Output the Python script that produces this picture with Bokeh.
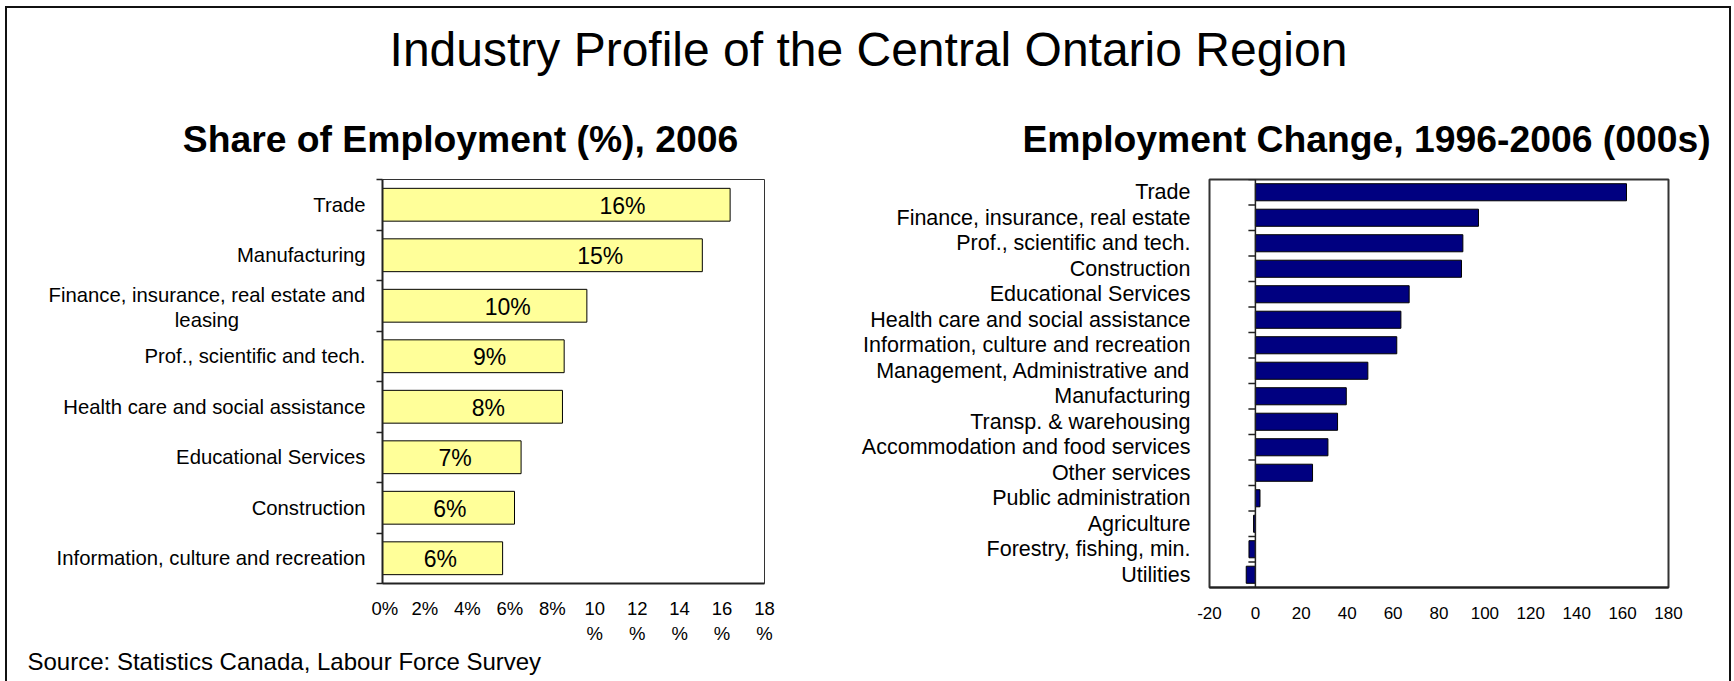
from bokeh.plotting import figure
from bokeh.layouts import column, row
from bokeh.models import Range1d, FixedTicker, Span
from bokeh.embed import file_html
from bokeh.resources import INLINE
from bokeh.core.properties import value

FONT = "Liberation Sans"

# ---------------- data ----------------
main_title = "Industry Profile of the Central Ontario Region"
share_title = "Share of Employment (%), 2006"
change_title = "Employment Change, 1996-2006 (000s)"
source_note = "Source:  Statistics Canada, Labour Force Survey"

share_categories = [
    "Trade",
    "Manufacturing",
    "Finance, insurance, real estate and leasing",
    "Prof., scientific and tech.",
    "Health care and social assistance",
    "Educational Services",
    "Construction",
    "Information, culture and recreation",
]
share_values = [16.38, 15.07, 9.63, 8.56, 8.48, 6.53, 6.22, 5.66]
share_ticks = [0, 2, 4, 6, 8, 10, 12, 14, 16, 18]

change_categories = [
    "Trade",
    "Finance, insurance, real estate",
    "Prof., scientific and tech.",
    "Construction",
    "Educational Services",
    "Health care and social assistance",
    "Information, culture and recreation",
    "Management, Administrative and",
    "Manufacturing",
    "Transp. & warehousing",
    "Accommodation and food services",
    "Other services",
    "Public administration",
    "Agriculture",
    "Forestry, fishing, min.",
    "Utilities",
]
change_values = [161.7, 97.2, 90.4, 89.8, 67.0, 63.4, 61.6, 49.0,
                 39.6, 35.8, 31.6, 24.9, 2.0, -0.8, -2.8, -4.0]
change_ticks = [-20, 0, 20, 40, 60, 80, 100, 120, 140, 160, 180]

# ---------------- layout sizes ----------------
TOTAL_W = 1722
HEAD_H = 154
MID_H = 485
FOOT_H = 34
LAB_W = 364          # category-label strip of the left chart
TOP_B = 17

L_FRAME_W, L_FRAME_H = 382, 404
L_LEFT_B, L_RIGHT_B = 11, 36
R_FRAME_W, R_FRAME_H = 459, 408
R_LEFT_B = 409 - LAB_W - (L_LEFT_B + L_FRAME_W + L_RIGHT_B) + 793
R_RIGHT_B = TOTAL_W - LAB_W - (L_LEFT_B + L_FRAME_W + L_RIGHT_B) - R_LEFT_B - R_FRAME_W

INK = "#222222"


def base_fig(**kw):
    p = figure(toolbar_location=None, output_backend="svg", title=None, **kw)
    p.background_fill_color = "white"
    p.border_fill_color = "white"
    return p


# ---------------- header ----------------
head = base_fig(width=TOTAL_W, height=HEAD_H,
                x_range=Range1d(0, TOTAL_W), y_range=Range1d(HEAD_H, 0),
                x_axis_type=None, y_axis_type=None, min_border=0)
head.outline_line_color = None
head.text(x=[861], y=[40.5], text=[main_title], text_font=value(FONT),
          text_font_size="48px", text_align="center", text_baseline="middle",
          text_color="black")
head.text(x=[453, 1359], y=[130, 130], text=[share_title, change_title],
          text_font=value(FONT), text_font_size="37.3px", text_font_style="bold",
          text_align="center", text_baseline="middle", text_color="black")

# ---------------- left chart: share of employment ----------------
n_s = len(share_categories)
s_idx = list(range(n_s))
left = base_fig(frame_width=L_FRAME_W, frame_height=L_FRAME_H,
                x_range=Range1d(0, 18), y_range=Range1d(n_s - 0.5, -0.5),
                min_border_left=L_LEFT_B, min_border_right=L_RIGHT_B,
                min_border_top=TOP_B, min_border_bottom=MID_H - TOP_B - L_FRAME_H)
left.xgrid.visible = False
left.ygrid.visible = False
left.outline_line_color = "#333333"
left.outline_line_width = 1

left.hbar(y=s_idx, left=0, right=share_values, height=0.65,
          fill_color="#FFFF99", line_color="black", line_width=1)

share_labels = [f"{v:.0f}%" for v in share_values]
share_label_x = [0.8 * v - 1.8 for v in share_values]
left.text(x=share_label_x, y=s_idx, text=share_labels, text_font=value(FONT),
          text_font_size="23px", text_align="center", text_baseline="middle",
          y_offset=1, text_color="black")

ya = left.yaxis[0]
ya.ticker = FixedTicker(ticks=[], minor_ticks=[i - 0.5 for i in range(n_s + 1)])
ya.major_tick_in = 0
ya.major_tick_out = 0
ya.minor_tick_in = 0
ya.minor_tick_out = 6
ya.minor_tick_line_color = INK
ya.minor_tick_line_width = 1.5
ya.axis_line_color = INK
ya.axis_line_width = 2
ya.major_label_standoff = 0

xa = left.xaxis[0]
xa.ticker = FixedTicker(ticks=share_ticks, minor_ticks=[])
xa.major_label_overrides = {t: (f"{t}%" if t < 10 else f"{t}\n%") for t in share_ticks}
xa.major_tick_in = 0
xa.major_tick_out = 0
xa.minor_tick_in = 0
xa.minor_tick_out = 0
xa.axis_line_color = INK
xa.axis_line_width = 2
xa.major_label_standoff = 14
xa.major_label_text_font = FONT
xa.major_label_text_font_size = "18.5px"
xa.major_label_text_line_height = 1.2
xa.major_label_text_color = "black"

# category labels of the left chart, drawn on the shared category scale
labs = base_fig(frame_width=LAB_W, frame_height=L_FRAME_H,
                x_range=Range1d(0, LAB_W), y_range=left.y_range,
                x_axis_type=None, y_axis_type=None,
                min_border_left=0, min_border_right=0,
                min_border_top=TOP_B, min_border_bottom=MID_H - TOP_B - L_FRAME_H)
labs.outline_line_color = None
lab_txt, lab_y, lab_x, lab_align = [], [], [], []
for i, c in enumerate(share_categories):
    if c == "Finance, insurance, real estate and leasing":
        lab_txt += ["Finance, insurance, real estate and", "leasing"]
        lab_y += [i - 0.22, i + 0.29]
        lab_x += [199.5, 199.5]
        lab_align += ["center", "center"]
    else:
        lab_txt.append(c)
        lab_y.append(i)
        lab_x.append(358)
        lab_align.append("right")
labs.text(x=lab_x, y=lab_y, text=lab_txt, text_align=lab_align,
          text_font=value(FONT), text_font_size="20.3px",
          text_baseline="middle", text_color="black")

# ---------------- right chart: employment change ----------------
n_c = len(change_categories)
c_idx = list(range(n_c))
right = base_fig(frame_width=R_FRAME_W, frame_height=R_FRAME_H,
                 x_range=Range1d(-20, 180), y_range=Range1d(n_c - 0.5, -0.5),
                 min_border_left=R_LEFT_B, min_border_right=R_RIGHT_B,
                 min_border_top=TOP_B, min_border_bottom=MID_H - TOP_B - R_FRAME_H)
right.xgrid.visible = False
right.ygrid.visible = False
right.outline_line_color = "#333333"
right.outline_line_width = 2

right.hbar(y=c_idx, left=0, right=change_values, height=0.67,
           fill_color="#000080", line_color="black", line_width=1)

right.add_layout(Span(location=0, dimension="height", line_color=INK, line_width=1.5))
tick_units = 7 * 200 / R_FRAME_W
bounds = [i - 0.5 for i in range(n_c + 1)]
right.segment(x0=[0] * len(bounds), x1=[-tick_units] * len(bounds),
              y0=bounds, y1=bounds, line_color=INK, line_width=1.5)

rya = right.yaxis[0]
rya.ticker = FixedTicker(ticks=c_idx, minor_ticks=[])
rya.major_label_overrides = {i: c for i, c in enumerate(change_categories)}
rya.major_tick_in = 0
rya.major_tick_out = 0
rya.minor_tick_in = 0
rya.minor_tick_out = 0
rya.axis_line_color = None
rya.major_label_standoff = 19
rya.major_label_text_font = FONT
rya.major_label_text_font_size = "21.5px"
rya.major_label_text_color = "black"

rxa = right.xaxis[0]
rxa.ticker = FixedTicker(ticks=change_ticks, minor_ticks=[])
rxa.major_label_overrides = {t: str(t) for t in change_ticks}
rxa.major_tick_in = 0
rxa.major_tick_out = 0
rxa.minor_tick_in = 0
rxa.minor_tick_out = 0
rxa.axis_line_color = INK
rxa.axis_line_width = 2
rxa.major_label_standoff = 19
rxa.major_label_text_font = FONT
rxa.major_label_text_font_size = "17px"
rxa.major_label_text_color = "black"

# ---------------- footer ----------------
foot = base_fig(width=TOTAL_W, height=FOOT_H,
                x_range=Range1d(0, TOTAL_W), y_range=Range1d(FOOT_H, 0),
                x_axis_type=None, y_axis_type=None, min_border=0)
foot.outline_line_color = None
foot.text(x=[20], y=[14], text=[source_note], text_font=value(FONT),
          text_font_size="24px", text_align="left", text_baseline="middle",
          text_color="black")

page = column(head, row(labs, left, right), foot,
              styles={"position": "fixed", "left": "5px", "top": "6px",
                      "box-sizing": "content-box",
                      "border": "2px solid #111111", "border-bottom": "none",
                      "background": "white"})

open("out.html", "w").write(file_html(page, INLINE))
